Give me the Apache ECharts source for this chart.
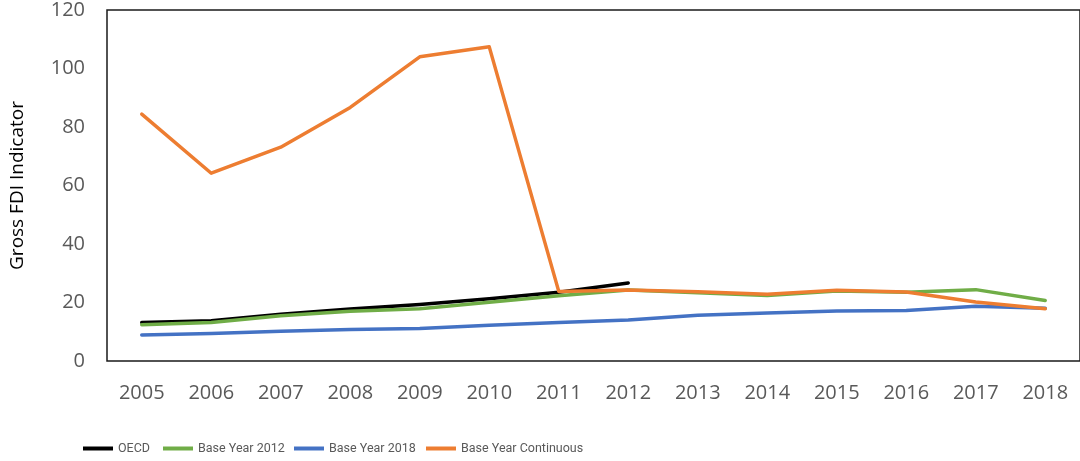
<!DOCTYPE html>
<html>
<head>
<meta charset="utf-8">
<script src="https://cdn.jsdelivr.net/npm/echarts@6/dist/echarts.min.js"></script>
<style>
  html, body { margin: 0; padding: 0; background: #fff; }
  #chart { width: 1080px; height: 461px; }
</style>
</head>
<body>
<div id="chart"></div>
<script>
const years = ['2005', '2006', '2007', '2008', '2009', '2010', '2011', '2012', '2013', '2014', '2015', '2016', '2017', '2018'];
const seriesNames = ['OECD', 'Base Year 2012', 'Base Year 2018', 'Base Year Continuous'];
const oecd = [13.2, 13.8, 16.0, 17.8, 19.3, 21.3, 23.5, 26.7, null, null, null, null, null, null];
const base2012 = [12.4, 13.2, 15.5, 17.0, 17.9, 20.1, 22.3, 24.3, 23.3, 22.4, 23.9, 23.5, 24.4, 20.7];
const base2018 = [8.9, 9.4, 10.2, 10.8, 11.1, 12.2, 13.2, 14.0, 15.6, 16.4, 17.1, 17.3, 18.7, 18.0];
const baseContinuous = [84.4, 64.2, 73.1, 86.7, 104.0, 107.4, 23.8, 24.3, 23.7, 22.8, 24.2, 23.6, 20.2, 17.9];

const chart = echarts.init(document.getElementById('chart'));

// same look for every line
const lineSeries = (name, data, color) => ({
  name: name,
  type: 'line',
  data: data,
  symbol: 'none',
  silent: true,
  lineStyle: { color: color, width: 3.5, cap: 'round', join: 'round' },
  itemStyle: { color: color },
});

// one legend per entry so each key sits where it does in the original
const legendLeft = [78, 158, 289, 421];
const legends = seriesNames.map((name, i) => ({
  left: legendLeft[i],
  top: 437,
  itemWidth: 30,
  itemHeight: 4,
  icon: 'rect',
  selectedMode: false,
  textStyle: { fontFamily: 'Roboto, sans-serif', fontSize: 12.5, color: '#595959' },
  data: [name],
}));

const option = {
  animation: false,
  grid: {
    left: 100,
    top: 8,
    width: 982,
    bottom: 100,
    show: true,
    borderColor: '#1a1a1a',
    borderWidth: 1.5,
  },
  legend: legends,
  xAxis: {
    type: 'category',
    data: years,
    boundaryGap: true,
    axisLine: { show: false },
    axisTick: { show: false },
    axisLabel: { margin: 22, color: '#595959', fontFamily: 'Open Sans', fontSize: 20 },
  },
  yAxis: {
    type: 'value',
    min: 0,
    max: 120,
    interval: 20,
    name: 'Gross FDI Indicator',
    nameLocation: 'middle',
    nameGap: 80,
    nameTextStyle: { color: '#000', fontFamily: 'Open Sans', fontSize: 19 },
    axisLine: { show: false },
    axisTick: { show: false },
    splitLine: { show: false },
    axisLabel: { margin: 22, color: '#595959', fontFamily: 'Open Sans', fontSize: 20 },
  },
  series: [
    lineSeries(seriesNames[0], oecd, '#000000'),
    lineSeries(seriesNames[1], base2012, '#70AD47'),
    lineSeries(seriesNames[2], base2018, '#4472C4'),
    lineSeries(seriesNames[3], baseContinuous, '#ED7D31'),
  ],
};

chart.setOption(option);
</script>
</body>
</html>
